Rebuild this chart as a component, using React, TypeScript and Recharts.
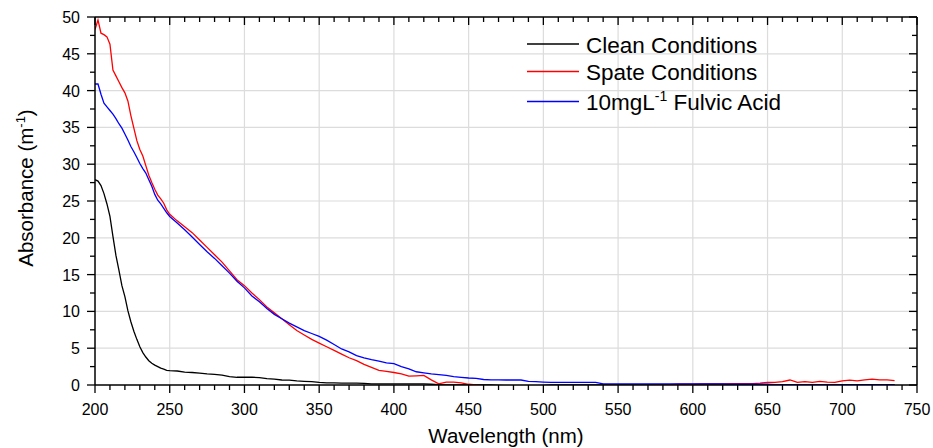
import React from 'react';
import { LineChart, Line, XAxis, YAxis, CartesianGrid, Legend } from 'recharts';

const FONT = 'Arial, "Liberation Sans", Helvetica, sans-serif';

// wavelength (nm)
const wavelengths = [
  200, 202, 204, 206, 208, 210, 212, 214, 216, 218, 220, 222, 224, 226, 228, 230, 232, 234, 236, 238, 240, 242, 244, 246, 248, 250,
  255, 260, 265, 270, 275, 280, 285, 290, 295, 300,
  305, 310, 315, 320, 325, 330, 335, 340, 345, 350,
  355, 360, 365, 370, 375, 380, 385, 390, 395, 400,
  405, 410, 415, 420, 425, 430, 435, 440, 445, 450,
  455, 460, 465, 470, 475, 480, 485, 490, 495, 500,
  505, 510, 515, 520, 525, 530, 535, 540, 545, 550,
  555, 560, 565, 570, 575, 580, 585, 590, 595, 600,
  605, 610, 615, 620, 625, 630, 635, 640, 645, 650,
  655, 660, 665, 670, 675, 680, 685, 690, 695, 700,
  705, 710, 715, 720, 725, 730, 735,
];

// absorbance (m^-1)
const clean = [
  27.9, 27.7, 27.1, 26.0, 24.6, 22.9, 20.2, 17.6, 15.6, 13.5, 12.0, 10.1, 8.6, 7.3, 6.2, 5.2, 4.4, 3.8, 3.3, 2.95, 2.7, 2.5, 2.3, 2.15, 2.0, 1.95,
  1.9, 1.75, 1.7, 1.6, 1.5, 1.45, 1.35, 1.15, 1.05, 1.05,
  1.05, 1.0, 0.88, 0.8, 0.68, 0.65, 0.55, 0.5, 0.45, 0.35,
  0.3, 0.28, 0.25, 0.25, 0.25, 0.22, 0.15, 0.15, 0.15, 0.15,
  0.15, 0.15, 0.15, 0.15, 0.1, 0.05, 0.0, 0.0, 0.0, 0.0,
  0.0, 0.0, 0.0, -0.05, -0.1, -0.1, -0.15, -0.15, -0.1, -0.05,
  0.0, 0.0, 0.0, 0.0, 0.0, 0.0, 0.0, 0.0, 0.0, 0.0,
  0.0, 0.0, 0.0, 0.0, 0.0, 0.0, 0.0, 0.0, 0.0, 0.0,
  0.0, 0.0, 0.0, 0.0, 0.0, 0.0, 0.0, 0.0, 0.0, 0.0,
  0.0, -0.05, -0.05, 0.0, 0.0, 0.0, 0.0, 0.0, 0.0, 0.0,
  0.0, 0.0, 0.0, 0.0, 0.0, 0.0, 0.0,
];

const spate = [
  48.3, 49.6, 47.8, 47.6, 47.3, 46.3, 42.8, 42.0, 41.2, 40.4, 39.7, 38.6, 36.6, 34.9, 33.2, 32.0, 31.1, 29.8, 28.5, 27.5, 26.6, 25.8, 25.3, 24.7, 23.8, 23.2,
  22.3, 21.5, 20.7, 19.7, 18.7, 17.7, 16.7, 15.5, 14.3, 13.5,
  12.5, 11.6, 10.6, 9.8, 9.0, 8.2, 7.4, 6.8, 6.2, 5.7,
  5.2, 4.7, 4.2, 3.7, 3.3, 2.8, 2.4, 2.0, 1.85, 1.7,
  1.5, 1.2, 1.25, 1.3, 0.7, 0.15, 0.4, 0.38, 0.3, 0.1,
  0.0, -0.1, -0.1, -0.1, -0.15, -0.2, -0.35, -0.15, -0.1, -0.1,
  -0.1, -0.1, -0.15, -0.1, -0.1, -0.2, -0.1, -0.1, 0.0, -0.1,
  -0.15, -0.15, -0.1, -0.1, 0.0, -0.05, 0.05, 0.1, 0.1, 0.12,
  0.15, 0.15, 0.15, 0.15, 0.2, 0.2, 0.2, 0.2, 0.25, 0.36,
  0.36, 0.45, 0.68, 0.35, 0.45, 0.35, 0.5, 0.4, 0.35, 0.55,
  0.65, 0.55, 0.7, 0.8, 0.7, 0.7, 0.6,
];

const fulvic = [
  40.9, 40.9, 39.5, 38.3, 37.8, 37.3, 36.8, 36.2, 35.5, 34.9, 34.1, 33.3, 32.4, 31.7, 30.9, 30.1, 29.4, 28.8, 27.9, 27.0, 25.9, 25.1, 24.6, 24.0, 23.4, 22.9,
  22.0, 21.1, 20.1, 19.1, 18.1, 17.2, 16.2, 15.2, 14.1, 13.2,
  12.1, 11.3, 10.4, 9.6, 9.0, 8.4, 7.9, 7.4, 7.0, 6.6,
  6.1, 5.5, 4.9, 4.5, 4.0, 3.7, 3.45, 3.25, 3.0, 2.9,
  2.5, 2.2, 1.8, 1.65, 1.5, 1.4, 1.3, 1.15, 1.05, 0.95,
  0.9, 0.75, 0.7, 0.7, 0.68, 0.68, 0.68, 0.5, 0.45, 0.4,
  0.36, 0.36, 0.36, 0.36, 0.36, 0.36, 0.36, 0.15, 0.15, 0.15,
  0.15, 0.15, 0.15, 0.15, 0.15, 0.15, 0.15, 0.15, 0.15, 0.15,
  0.15, 0.15, 0.15, 0.15, 0.1, 0.1, 0.1, 0.1, 0.1, 0.1,
  0.05, 0.05, 0.05, 0.05, 0.05, 0.05, 0.05, 0.05, 0.05, 0.05,
  0.05, 0.05, 0.05, 0.05, 0.05, 0.05, 0.05,
];

const xMajorTicks = [200, 250, 300, 350, 400, 450, 500, 550, 600, 650, 700, 750];
const yMajorTicks = [0, 5, 10, 15, 20, 25, 30, 35, 40, 45, 50];
const xTicks = xMajorTicks.flatMap((t, i) => (i === xMajorTicks.length - 1 ? [t] : [t, t + 10, t + 20, t + 30, t + 40]));
const yTicks = yMajorTicks.flatMap((t, i) => (i === yMajorTicks.length - 1 ? [t] : [t, t + 2.5]));

const data = wavelengths.map((w, i) => ({ w, clean: clean[i], spate: spate[i], fulvic: fulvic[i] }));

const AX = { stroke: '#000', strokeWidth: 1.5 };
const isMajorX = (v: number) => v % 50 === 0;
const isMajorY = (v: number) => v % 5 === 0;

const BottomTick = ({ x, y, payload }: any) => {
  const major = isMajorX(payload.value);
  return (
    <g>
      <line x1={x} x2={x} y1={y} y2={y + (major ? 8 : 5)} stroke="#000" strokeWidth={1.3} />
      {major && (
        <text x={x} y={y + 30} textAnchor="middle" fontSize={16} fontFamily={FONT} fill="#000">
          {payload.value}
        </text>
      )}
    </g>
  );
};

const TopTick = ({ x, y, payload }: any) => (
  <line x1={x} x2={x} y1={y} y2={y + (isMajorX(payload.value) ? 8 : 5)} stroke="#000" strokeWidth={1.3} />
);

const LeftTick = ({ x, y, payload }: any) => {
  const major = isMajorY(payload.value);
  return (
    <g>
      <line x1={x - (major ? 8 : 5)} x2={x} y1={y} y2={y} stroke="#000" strokeWidth={1.3} />
      {major && (
        <text x={x - 15} y={y + 6} textAnchor="end" fontSize={16} fontFamily={FONT} fill="#000">
          {payload.value}
        </text>
      )}
    </g>
  );
};

const RightTick = ({ x, y, payload }: any) => (
  <line x1={x - (isMajorY(payload.value) ? 8 : 5)} x2={x} y1={y} y2={y} stroke="#000" strokeWidth={1.3} />
);

const XTitle = ({ viewBox }: any) => (
  <text x={viewBox.x + viewBox.width / 2} y={viewBox.y + 58} textAnchor="middle" fontSize={20.5} fontFamily={FONT} fill="#000">
    Wavelength (nm)
  </text>
);

const YTitle = ({ viewBox }: any) => {
  const cx = viewBox.x + 33;
  const cy = viewBox.y + viewBox.height / 2 - 13;
  return (
    <text x={cx} y={cy} transform={`rotate(-90, ${cx}, ${cy})`} textAnchor="middle" fontSize={20.5} fontFamily={FONT} fill="#000">
      Absorbance (m
      <tspan dy={-8} fontSize={13}>-1</tspan>
      <tspan dy={8}>)</tspan>
    </text>
  );
};

const legendItems = [
  { key: 'clean', color: '#000000', y: 24 },
  { key: 'spate', color: '#ff0000', y: 51.5 },
  { key: 'fulvic', color: '#0000ff', y: 81.5 },
];

const renderLegend = () => (
  <svg width={320} height={100} style={{ display: 'block', overflow: 'visible' }}>
    {legendItems.map((it) => (
      <line key={it.key} x1={7} x2={59} y1={it.y} y2={it.y} stroke={it.color} strokeWidth={1.3} />
    ))}
    <text x={66} y={33.3} fontSize={22.5} fontFamily={FONT} fill="#000">Clean Conditions</text>
    <text x={66} y={59.6} fontSize={22.5} fontFamily={FONT} fill="#000">Spate Conditions</text>
    <text x={66} y={90} fontSize={22.5} fontFamily={FONT} fill="#000">
      10mgL
      <tspan dy={-9} fontSize={14}>-1</tspan>
      <tspan dy={9}> Fulvic Acid</tspan>
    </text>
  </svg>
);

export default function App() {
  return (
    <div style={{ position: 'absolute', left: 0, top: 0, width: 933, height: 448, background: '#fff' }}>
      <LineChart width={933} height={448} data={data} margin={{ top: 16, right: 15, bottom: 0, left: 0 }}>
        <CartesianGrid
          stroke="#dcdcdc"
          strokeWidth={1.2}
          verticalValues={[250, 300, 350, 400, 450, 500, 550, 600, 650, 700]}
          horizontalValues={[5, 10, 15, 20, 25, 30, 35, 40, 45]}
        />
        <XAxis
          dataKey="w"
          type="number"
          domain={[200, 750]}
          allowDataOverflow
          ticks={xTicks}
          interval={0}
          height={63}
          tickSize={0}
          tickMargin={0}
          tickLine={false}
          axisLine={AX}
          tick={<BottomTick />}
          label={<XTitle />}
        />
        <XAxis
          xAxisId="top"
          orientation="top"
          dataKey="w"
          type="number"
          domain={[200, 750]}
          allowDataOverflow
          ticks={xTicks}
          interval={0}
          height={1}
          tickSize={0}
          tickMargin={0}
          tickLine={false}
          axisLine={AX}
          tick={<TopTick />}
        />
        <YAxis
          type="number"
          domain={[0, 50]}
          allowDataOverflow
          ticks={yTicks}
          interval={0}
          width={95}
          tickSize={0}
          tickMargin={0}
          tickLine={false}
          axisLine={AX}
          tick={<LeftTick />}
          label={<YTitle />}
        />
        <YAxis
          yAxisId="right"
          orientation="right"
          type="number"
          domain={[0, 50]}
          allowDataOverflow
          ticks={yTicks}
          interval={0}
          width={1}
          tickSize={0}
          tickMargin={0}
          tickLine={false}
          axisLine={AX}
          tick={<RightTick />}
        />
        <Legend
          layout="horizontal"
          verticalAlign="middle"
          align="center"
          content={renderLegend}
          wrapperStyle={{ left: 520, top: 20, width: 320, height: 100 }}
        />
        <Line dataKey="clean" yAxisId="right" stroke="#000000" strokeWidth={1.3} dot={false} type="linear" isAnimationActive={false} />
        <Line dataKey="spate" xAxisId="top" stroke="#ff0000" strokeWidth={1.3} dot={false} type="linear" isAnimationActive={false} />
        <Line dataKey="fulvic" stroke="#0000ff" strokeWidth={1.3} dot={false} type="linear" isAnimationActive={false} />
      </LineChart>
    </div>
  );
}
